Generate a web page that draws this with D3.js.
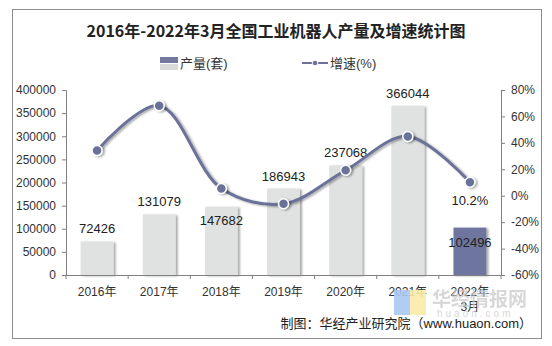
<!DOCTYPE html>
<html>
<head>
<meta charset="utf-8">
<script src="https://cdn.jsdelivr.net/npm/d3@7"></script>
<style>
  body { margin: 0; background: #fff; }
  svg text { font-family: "Liberation Sans", Arial, "Noto Sans CJK SC", sans-serif; }
</style>
</head>
<body>
<div id="grafica"></div>
<script>
// datos
const years = ["2016年", "2017年", "2018年", "2019年", "2020年", "2021年", "2022年\n3月"]
const output = [72426, 131079, 147682, 186943, 237068, 366044, 102496]
const growth = [34.3, 68.1, 5.5, -6.1, 19.3, 44.9, 10.2]
const leftTicks = [0, 50000, 100000, 150000, 200000, 250000, 300000, 350000, 400000]
const rightTicks = [-60, -40, -20, 0, 20, 40, 60, 80]

const width = 552
const height = 346
const padLeft = 66, padRight = 501, padTop = 90, padBottom = 275

const svg = d3.select('#grafica')
  .append("svg")
  .attr("width", width)
  .attr("height", height)

// sombras
const defs = svg.append("defs")
const sh = defs.append("filter").attr("id", "sh").attr("x", "-20%").attr("y", "-20%").attr("width", "160%").attr("height", "160%")
sh.append("feDropShadow").attr("dx", 2).attr("dy", 1).attr("stdDeviation", 1.3).attr("flood-color", "#000").attr("flood-opacity", 0.35)

// marco
svg.append("rect")
  .attr("x", 12.5).attr("y", 9.5)
  .attr("width", 529).attr("height", 329)
  .attr("fill", "none").attr("stroke", "#8c8c8c")

svg.append("text")
  .attr("x", 276).attr("y", 37)
  .attr("text-anchor", "middle")
  .attr("font-size", 16).attr("font-weight", "bold")
  .attr("fill", "#222")
  .style("font-family", "'Noto Sans CJK SC', sans-serif")
  .text("2016年-2022年3月全国工业机器人产量及增速统计图")

// leyenda
svg.append("rect").attr("x", 160).attr("y", 57).attr("width", 18).attr("height", 6).attr("fill", "#737a9e")
svg.append("rect").attr("x", 160).attr("y", 64).attr("width", 18).attr("height", 6).attr("fill", "#d9dada")
svg.append("text").attr("x", 180).attr("y", 68).attr("font-size", 13).attr("fill", "#333").text("产量(套)")
svg.append("line").attr("x1", 302).attr("x2", 328).attr("y1", 63).attr("y2", 63).attr("stroke", "#6b7299").attr("stroke-width", 2)
svg.append("circle").attr("cx", 315).attr("cy", 63).attr("r", 2.8).attr("fill", "#6b7299").attr("stroke", "#fff")
svg.append("text").attr("x", 330).attr("y", 68).attr("font-size", 13).attr("fill", "#333").text("增速(%)")

// escalas
const xScale = d3.scaleBand().domain(years).range([padLeft, padRight]).paddingInner(0.47).paddingOuter(0.235)
const xAxisScale = d3.scaleBand().domain(years).range([padLeft, padRight])
const yScale = d3.scaleLinear().domain([0, 400000]).range([padBottom, padTop])
const y2Scale = d3.scaleLinear().domain([-60, 80]).range([padBottom, padTop])

// barras
svg.selectAll("rect.bar")
  .data(output)
  .enter()
  .append("rect")
  .attr("class", "bar")
  .attr("x", (d, i) => xScale(years[i]))
  .attr("y", d => yScale(d))
  .attr("width", xScale.bandwidth())
  .attr("height", d => padBottom - yScale(d))
  .attr("fill", (d, i) => i == 6 ? "#6e76a0" : "#e0e1e1")
  .attr("filter", "url(#sh)")

// ejes
const yAxis = d3.axisLeft(yScale).tickValues(leftTicks).tickSize(4).tickPadding(6).tickFormat(d3.format("d"))
const y2Axis = d3.axisRight(y2Scale).tickValues(rightTicks).tickSize(4).tickPadding(6).tickFormat(d => d + "%")

const gy = svg.append("g").attr("transform", "translate(" + padLeft + ",0)").call(yAxis)
const gy2 = svg.append("g").attr("transform", "translate(" + padRight + ",0)").call(y2Axis)
const gx = svg.append("g").attr("transform", "translate(0," + padBottom + ")")
gx.append("line").attr("x1", padLeft).attr("x2", padRight).attr("y1", 0.5).attr("y2", 0.5).attr("stroke", "#808080")
gx.selectAll("line.t")
  .data(d3.range(years.length + 1))
  .enter()
  .append("line")
  .attr("class", "t")
  .attr("x1", i => padLeft + i * xAxisScale.step()).attr("x2", i => padLeft + i * xAxisScale.step())
  .attr("y1", 0).attr("y2", 4).attr("stroke", "#808080")

// marca de agua (debajo del texto)
svg.append("rect").attr("x", 394).attr("y", 290).attr("width", 16).attr("height", 25).attr("fill", "#a9c8f2").attr("opacity", 0.9)
svg.append("rect").attr("x", 410).attr("y", 290).attr("width", 16).attr("height", 25).attr("fill", "#fbeaa6").attr("opacity", 0.9)
svg.append("text").attr("x", 432).attr("y", 306).attr("font-size", 19).attr("font-weight", "bold")
  .attr("fill", "#c8c8c8").attr("opacity", 0.7).style("font-family", "'Noto Sans CJK SC', sans-serif").text("华经情报网")
svg.append("text").attr("x", 437).attr("y", 317).attr("font-size", 10)
  .attr("fill", "#d8d8d8").attr("letter-spacing", 3).text("huaon.com")

gx.selectAll("text")
  .data(years)
  .enter()
  .append("text")
  .attr("x", d => xAxisScale(d) + xAxisScale.bandwidth() / 2)
  .attr("y", 21)
  .attr("text-anchor", "middle")
  .attr("font-size", 12)
  .attr("fill", "#333")
  .each(function (d) {
    const parts = d.split("\n")
    const xx = d3.select(this).attr("x")
    d3.select(this).selectAll("tspan").data(parts).enter().append("tspan")
      .attr("x", xx)
      .attr("dy", (p, j) => j == 0 ? 0 : 15)
      .text(p => p)
  })

for (const g of [gy, gy2]) {
  g.select(".domain").attr("stroke", "#808080")
  g.selectAll(".tick line").attr("stroke", "#808080")
  g.selectAll(".tick text").attr("font-size", 12).attr("fill", "#333")
    .style("font-family", "'Liberation Sans', Arial, sans-serif")
}

// etiquetas de barras
const labelDy = [-9, -8, 18, -8, -8, -8, 19]
svg.selectAll("text.bl")
  .data(output)
  .enter()
  .append("text")
  .attr("class", "bl")
  .attr("x", (d, i) => xScale(years[i]) + xScale.bandwidth() / 2)
  .attr("y", (d, i) => yScale(d) + labelDy[i])
  .attr("text-anchor", "middle")
  .attr("font-size", 13)
  .attr("fill", "#222")
  .text(d => d)

// linea de crecimiento
const cx = (d, i) => xAxisScale(years[i]) + xAxisScale.bandwidth() / 2
const line = d3.line()
  .x((d, i) => cx(d, i))
  .y(d => y2Scale(d))
  .curve(d3.curveCatmullRom.alpha(0.5))

svg.append("path")
  .datum(growth)
  .attr("d", line)
  .attr("fill", "none")
  .attr("stroke", "#6b7299")
  .attr("stroke-width", 3)
  .attr("filter", "url(#sh)")

svg.selectAll("circle.pt")
  .data(growth)
  .enter()
  .append("circle")
  .attr("class", "pt")
  .attr("cx", cx)
  .attr("cy", d => y2Scale(d))
  .attr("r", 5)
  .attr("fill", "#6b7299")
  .attr("stroke", "#fff")
  .attr("stroke-width", 1.5)
  .attr("filter", "url(#sh)")

svg.append("text")
  .attr("x", cx(growth[6], 6))
  .attr("y", y2Scale(growth[6]) + 23)
  .attr("text-anchor", "middle")
  .attr("font-size", 13)
  .attr("fill", "#222")
  .text(growth[6] + "%")

// fuente
svg.append("text")
  .attr("x", 532).attr("y", 328)
  .attr("text-anchor", "end")
  .attr("font-size", 13)
  .attr("fill", "#222")
  .text("制图：华经产业研究院（www.huaon.com）")
</script>
</body>
</html>
